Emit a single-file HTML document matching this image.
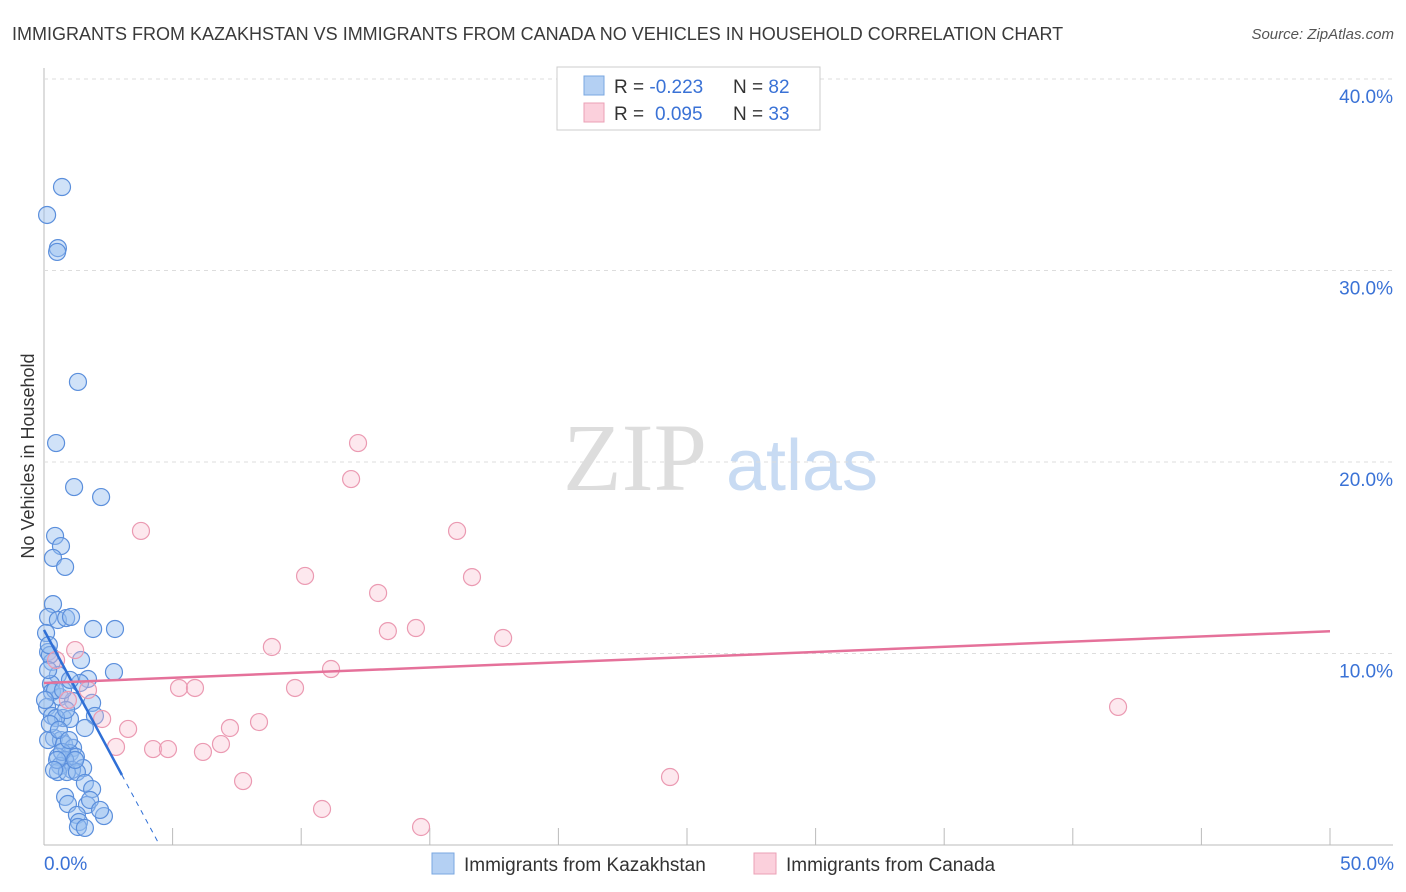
<!DOCTYPE html>
<html><head><meta charset="utf-8"><style>
body{margin:0;background:#fff;font-family:"Liberation Sans",sans-serif;}
svg{display:block}
</style></head><body>
<svg id="chart" width="1406" height="892">
<text x="12" y="40" font-size="18" fill="#3a3a3a">IMMIGRANTS FROM KAZAKHSTAN VS IMMIGRANTS FROM CANADA NO VEHICLES IN HOUSEHOLD CORRELATION CHART</text>
<text x="1394" y="39" font-size="15" fill="#555" font-style="italic" text-anchor="end">Source: ZipAtlas.com</text>
<text x="34" y="456" font-size="18" fill="#333" text-anchor="middle" transform="rotate(-90 34 456)">No Vehicles in Household</text>
<g><text x="635" y="490" font-size="96" fill="#ddd" font-family="Liberation Serif,serif" text-anchor="middle">ZIP</text><text x="802" y="490" font-size="72" fill="#c8dbf3" text-anchor="middle">atlas</text></g>
<g id="grid"></g><g id="ticks"></g><g id="pts"></g><g id="trend"></g>
<g>
<rect x="557" y="67" width="263" height="63" fill="#fff" stroke="#ccc"/>
<rect x="584" y="76" width="20" height="19" fill="#b4d0f3" stroke="#7aa7e0"/>
<rect x="584" y="103" width="20" height="19" fill="#fbd0dc" stroke="#eba0b6"/>
<text x="614" y="93" font-size="19" fill="#333">R = <tspan fill="#3a72d6">-0.223</tspan><tspan x="733">N = </tspan><tspan fill="#3a72d6">82</tspan></text>
<text x="614" y="120" font-size="19" fill="#333">R = <tspan fill="#3a72d6" x="655">0.095</tspan><tspan x="733">N = </tspan><tspan fill="#3a72d6">33</tspan></text>
</g>
<g>
<rect x="432" y="853" width="22" height="21" fill="#b4d0f3" stroke="#7aa7e0"/>
<text x="464" y="871" font-size="19" fill="#333">Immigrants from Kazakhstan</text>
<rect x="754" y="853" width="22" height="21" fill="#fbd0dc" stroke="#eba0b6"/>
<text x="786" y="871" font-size="19" fill="#333">Immigrants from Canada</text>
</g>
<text x="44" y="870" font-size="19" fill="#3a72d6">0.0%</text>
<text x="1394" y="870" font-size="19" fill="#3a72d6" text-anchor="end">50.0%</text>
</svg>
<script>
const yTicks=[10,20,30,40];
const yTickLabels=["10.0%","20.0%","30.0%","40.0%"];
const xTicks=[5,10,15,20,25,30,35,40,45,50];
const kazX=[0.70,0.12,0.54,0.51,1.32,0.47,1.17,2.22,0.43,0.66,0.35,0.82,0.35,0.16,0.54,0.86,1.05,1.91,2.76,0.08,0.16,1.44,0.31,2.72,0.54,1.71,0.27,1.40,0.31,0.62,1.13,1.87,0.12,0.31,0.74,1.01,1.98,0.47,1.59,0.39,0.66,0.16,0.78,1.13,1.01,0.54,1.24,0.82,0.62,1.52,1.09,0.54,0.89,1.28,1.59,1.87,0.82,0.93,1.67,1.28,1.36,2.33,1.32,1.59,0.23,0.16,0.43,0.23,0.86,0.58,0.04,0.70,1.21,0.97,1.79,0.51,0.74,1.01,2.18,0.39,0.19];
const kazY=[34.36,32.90,31.17,30.97,24.18,20.99,18.69,18.17,16.14,15.61,14.99,14.52,12.58,11.91,11.75,11.85,11.91,11.28,11.28,11.07,10.08,9.66,9.56,9.03,8.88,8.67,8.41,8.46,7.99,7.73,7.52,7.42,7.21,6.74,6.63,6.58,6.74,6.63,6.11,5.59,5.48,5.48,5.27,5.07,4.80,4.60,4.60,4.44,4.13,4.02,3.92,3.81,3.81,3.81,3.24,2.92,2.51,2.14,2.09,1.57,1.20,1.51,0.94,0.89,9.92,9.14,8.09,6.32,7.05,6.01,7.57,4.86,4.44,5.48,2.35,4.44,8.09,8.62,1.83,3.92,10.44];
const canX=[3.77,12.21,11.94,16.06,10.15,16.64,12.99,14.46,13.37,17.85,8.86,11.16,5.25,5.87,9.76,41.76,8.36,7.23,3.27,2.26,2.80,4.24,4.82,6.18,6.88,7.74,24.34,10.81,14.66,0.47,0.93,1.71,1.21];
const canY=[16.40,20.99,19.11,16.40,14.05,13.99,13.16,11.33,11.17,10.81,10.34,9.19,8.20,8.20,8.20,7.21,6.42,6.11,6.06,6.58,5.12,5.01,5.01,4.86,5.27,3.34,3.55,1.88,0.94,9.66,7.57,8.09,10.18];
const kazTrend=[11.23,-2.5]; // intercept, slope
const canTrend=[8.46,0.054];
const NS="http://www.w3.org/2000/svg";
const X=v=>44+v*25.72, Y=v=>845-v*19.15;
function mk(t,a,p){const e=document.createElementNS(NS,t);for(const k in a)e.setAttribute(k,a[k]);document.getElementById(p).appendChild(e);return e;}
mk('line',{x1:44,y1:68,x2:44,y2:845,stroke:'#bbb'},'grid');
mk('line',{x1:44,y1:845,x2:1393,y2:845,stroke:'#bbb'},'grid');
yTicks.forEach((v,i)=>{
 const l=mk('line',{x1:44,y1:Y(v),x2:1393,y2:Y(v),stroke:'#ddd','stroke-dasharray':'4,4'},'grid');
 
 
 const t=mk('text',{x:1393,y:Y(v)+24,'font-size':19,fill:'#3a72d6','text-anchor':'end'},'grid');
 t.textContent=yTickLabels[i];
 
 
});
xTicks.forEach(v=>{
 const l=mk('line',{x1:X(v),y1:828,x2:X(v),y2:845,stroke:'#bbb'},'ticks');
 
 
});
kazX.forEach((x,i)=>{
 const c=mk('circle',{cx:X(x),cy:Y(kazY[i]),r:8.5,fill:'rgba(150,190,240,0.45)',stroke:'#5b8fdc','stroke-width':1.2},'pts');
 
 
});
canX.forEach((x,i)=>{
 const c=mk('circle',{cx:X(x),cy:Y(canY[i]),r:8.5,fill:'rgba(250,190,206,0.35)',stroke:'#eb9ab2','stroke-width':1.2},'pts');
 
 
});
const x0=kazTrend[0]/-kazTrend[1];
let l=mk('line',{x1:X(0),y1:Y(kazTrend[0]),x2:X(3.03),y2:Y(kazTrend[0]+kazTrend[1]*3.03),stroke:'#2f6fd6','stroke-width':2.5},'trend');


l=mk('line',{x1:X(3.03),y1:Y(kazTrend[0]+kazTrend[1]*3.03),x2:X(x0),y2:Y(0),stroke:'#2f6fd6','stroke-width':1,'stroke-dasharray':'5,5'},'trend');


l=mk('line',{x1:X(0),y1:Y(canTrend[0]),x2:X(50),y2:Y(canTrend[0]+canTrend[1]*50),stroke:'#e5719a','stroke-width':2.5},'trend');


</script>
</body></html>
